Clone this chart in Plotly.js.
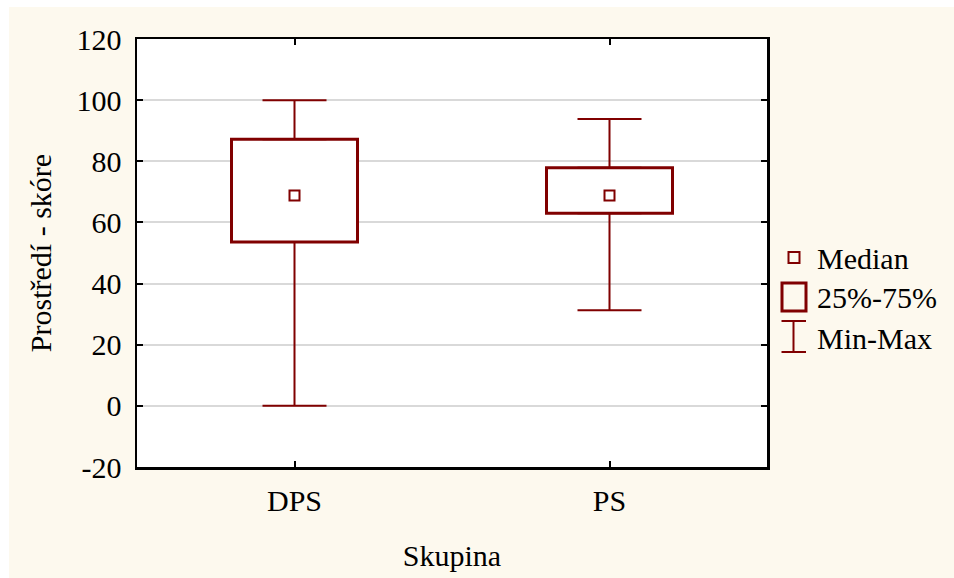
<!DOCTYPE html>
<html>
<head>
<meta charset="utf-8">
<script src="https://cdn.plot.ly/plotly-3.0.1.min.js"></script>
<style>
  html, body { margin: 0; padding: 0; background: #ffffff; }
  #chart { position: absolute; left: 9px; top: 7px; width: 945px; height: 571px; }
</style>
</head>
<body>
<div id="chart"></div>
<script>
// ---- data ----
var groups  = ['DPS', 'PS'];
var minimum = [0, 31.3];
var q1      = [53.6, 63.0];
var median  = [68.8, 68.8];
var q3      = [87.2, 77.9];
var maximum = [100, 93.8];

var yTickVals = [-20, 0, 20, 40, 60, 80, 100, 120];
var legendLabels = ['Median', '25%-75%', 'Min-Max'];

// ---- styling ----
var RED = '#800000';
var FONT = 'Liberation Serif, Times New Roman, serif';
var FS = 30;

var W = 945, H = 571;
var M = {l: 128, r: 187, t: 32, b: 111};
var PW = W - M.l - M.r, PH = H - M.t - M.b;
function px(x) { return (x - M.l) / PW; }
function py(y) { return (H - M.b - y) / PH; }

var iqr = q3.map(function (v, i) { return v - q1[i]; });
var upperLen = maximum.map(function (v, i) { return v - q3[i]; });
var lowerLen = q1.map(function (v, i) { return v - minimum[i]; });
var zeros = groups.map(function () { return 0; });

var traces = [
  {
    type: 'bar', x: groups, y: iqr, base: q1, width: 0.4,
    marker: {color: '#ffffff', line: {color: RED, width: 3}},
    showlegend: false, hoverinfo: 'skip'
  },
  {
    type: 'scatter', mode: 'markers', x: groups, y: q3,
    marker: {color: 'rgba(0,0,0,0)', size: 1},
    error_y: {type: 'data', symmetric: false, array: upperLen, arrayminus: zeros,
              width: 32, thickness: 2, color: RED},
    showlegend: false, hoverinfo: 'skip'
  },
  {
    type: 'scatter', mode: 'markers', x: groups, y: q1,
    marker: {color: 'rgba(0,0,0,0)', size: 1},
    error_y: {type: 'data', symmetric: false, array: zeros, arrayminus: lowerLen,
              width: 32, thickness: 2, color: RED},
    showlegend: false, hoverinfo: 'skip'
  },
  {
    type: 'scatter', mode: 'markers', x: groups, y: median,
    marker: {symbol: 'square-open', size: 10, color: RED, line: {width: 2, color: RED}},
    showlegend: false, hoverinfo: 'skip'
  }
];

// legend (drawn manually in paper coordinates)
var shapes = [
  {type: 'rect', xref: 'paper', yref: 'paper',
   x0: px(779.5), x1: px(790.5), y0: py(256), y1: py(245),
   line: {color: RED, width: 2}, fillcolor: 'rgba(0,0,0,0)'},
  {type: 'rect', xref: 'paper', yref: 'paper',
   x0: px(773), x1: px(797), y0: py(304), y1: py(276),
   line: {color: RED, width: 3}, fillcolor: 'rgba(0,0,0,0)'},
  {type: 'line', xref: 'paper', yref: 'paper',
   x0: px(784.5), x1: px(784.5), y0: py(345), y1: py(314),
   line: {color: RED, width: 2}},
  {type: 'line', xref: 'paper', yref: 'paper',
   x0: px(772.5), x1: px(797), y0: py(314), y1: py(314),
   line: {color: RED, width: 2}},
  {type: 'line', xref: 'paper', yref: 'paper',
   x0: px(772.5), x1: px(797), y0: py(345), y1: py(345),
   line: {color: RED, width: 2}}
];
var legendY = [251, 290, 331];
var annotations = legendLabels.map(function (t, i) {
  return {text: t, xref: 'paper', yref: 'paper', x: px(806), y: py(legendY[i]),
          xanchor: 'left', yanchor: 'middle', showarrow: false,
          font: {family: FONT, size: FS, color: '#000'}};
});

var layout = {
  width: W, height: H,
  margin: M,
  paper_bgcolor: '#fdf9ee',
  plot_bgcolor: '#ffffff',
  font: {family: FONT, size: FS, color: '#000'},
  showlegend: false,
  bargap: 0,
  xaxis: {
    type: 'category', range: [-0.5, 1.5],
    showgrid: false, zeroline: false,
    showline: true, linecolor: '#000', linewidth: 2.5, mirror: 'ticks',
    ticks: 'inside', ticklen: 6, tickwidth: 2, tickcolor: '#000',
    tickfont: {family: FONT, size: FS, color: '#000'},
    ticklabelstandoff: 5,
    title: {text: 'Skupina', font: {family: FONT, size: FS, color: '#000'}, standoff: 30},
    fixedrange: true
  },
  yaxis: {
    range: [-20, 120], tickvals: yTickVals, ticktext: yTickVals.map(String),
    showgrid: true, gridcolor: '#d9d9d9', gridwidth: 2, zeroline: false,
    showline: true, linecolor: '#000', linewidth: 2.5, mirror: 'ticks',
    ticks: 'inside', ticklen: 6, tickwidth: 2, tickcolor: '#000',
    tickfont: {family: FONT, size: FS, color: '#000'},
    ticklabelstandoff: 7,
    title: {text: 'Prostředí - skóre', font: {family: FONT, size: FS, color: '#000'}, standoff: 16},
    fixedrange: true
  },
  shapes: shapes,
  annotations: annotations
};

Plotly.newPlot('chart', traces, layout, {displayModeBar: false, staticPlot: true});
</script>
</body>
</html>
